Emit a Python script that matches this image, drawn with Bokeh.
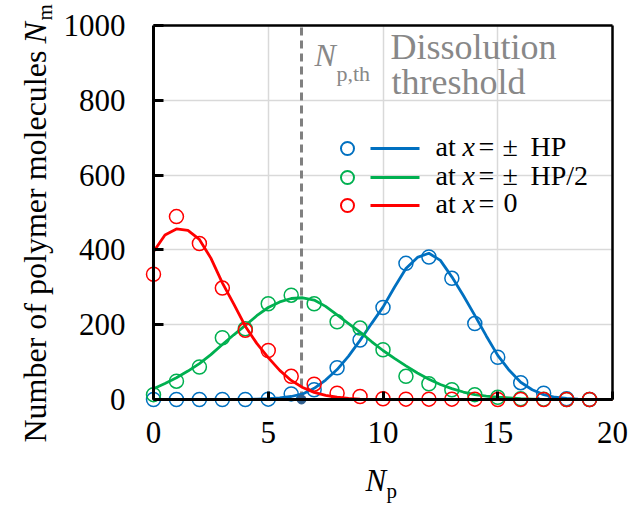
import math
from bokeh.plotting import figure
from bokeh.models import Range1d, Label, FixedTicker, LinearAxis, Grid
from bokeh.embed import file_html
from bokeh.resources import INLINE

# ---------------- data ----------------
n_p = [0, 1, 2, 3, 4, 5, 6, 7, 8, 9, 10, 11, 12, 13, 14, 15, 16, 17, 18, 19]
nm_hp = [0, 0, 0, 0, 0, 1, 15, 26, 85, 159, 246, 364, 381, 324, 203, 113, 45, 17, 2, 0]
nm_hp2 = [13, 49, 87, 165, 189, 256, 279, 256, 208, 191, 133, 62, 42, 26, 13, 6, 2, 1, 0, 0]
nm_0 = [335, 489, 417, 298, 185, 131, 62, 41, 17, 8, 2, 1, 1, 1, 1, 0, 0, 0, 0, 0]

fit_x = [0, 0.5, 1, 1.5, 2, 2.5, 3, 3.5, 4, 4.5, 5, 5.5, 6, 6.5, 7, 7.5, 8, 8.5, 9, 9.5,
         10, 10.5, 11, 11.5, 12, 12.5, 13, 13.5, 14, 14.5, 15, 15.5, 16, 16.5, 17, 17.5,
         18, 18.5, 19, 19.5, 20]
fit_hp = [0, 0, 0, 0, 0, 0, 0, 0, 0, 1, 2, 4, 8, 15, 30, 52, 80, 116, 158, 203,
          247, 300, 350, 380, 391, 372, 328, 278, 225, 170, 118, 78, 46, 26, 13, 6,
          3, 1, 0, 0, 0]
fit_hp2 = [29, 43, 58, 76, 96, 120, 147, 173, 198, 224, 246, 261, 270, 272, 266, 249, 226, 203, 180, 155,
           131, 110, 90, 71, 54, 40, 29, 20, 13, 9, 6, 4, 2, 1, 0, 0,
           0, 0, 0, 0, 0]
fit_0 = [395, 440, 456, 452, 428, 378, 312, 255, 196, 150, 112, 78, 51, 32, 19, 11, 6, 3, 1, 0,
         0, 0, 0, 0, 0, 0, 0, 0, 0, 0, 0, 0, 0, 0, 0, 0,
         0, 0, 0, 0, 0]

n_p_th = 6.45
x_ticks = [0, 5, 10, 15, 20]
y_ticks = [0, 200, 400, 600, 800, 1000]
series_labels = ["HP", "HP/2", "0"]

BLUE = "#0070C0"
GREEN = "#00B050"
RED = "#FF0000"
GRAY = "#888888"
SERIF = "Liberation Serif"

# ---------------- layout (plot box in canvas pixels) ----------------
W, H = 629, 506
LEFT, RIGHT, TOP, BOTTOM = 153, 612, 25, 399
X_MIN, X_MAX = x_ticks[0], x_ticks[-1]
Y_MIN, Y_MAX = y_ticks[0], y_ticks[-1]
sx = (X_MAX - X_MIN) / (RIGHT - LEFT)
sy = (Y_MAX - Y_MIN) / (BOTTOM - TOP)

x_range = Range1d(X_MIN - LEFT * sx, X_MAX + (W - RIGHT) * sx)
y_range = Range1d(Y_MIN - (H - BOTTOM) * sy, Y_MAX + TOP * sy)

p = figure(width=W, height=H, x_range=x_range, y_range=y_range,
           x_axis_location=None, y_axis_location=None,
           min_border_left=0, min_border_right=0, min_border_top=0, min_border_bottom=0,
           output_backend="svg", toolbar_location=None)
p.background_fill_color = "white"
p.border_fill_color = "white"
p.outline_line_color = None


def make_axis(side, loc, ticks, tick_in, show_labels, line_width):
    ax = LinearAxis(fixed_location=loc, ticker=FixedTicker(ticks=ticks),
                    bounds=(X_MIN, X_MAX) if side in ("below", "above") else (Y_MIN, Y_MAX))
    ax.axis_line_color = "black"
    ax.axis_line_width = line_width
    ax.major_tick_line_color = "black"
    ax.major_tick_line_width = 3
    ax.major_tick_in = tick_in
    ax.major_tick_out = 0
    ax.minor_tick_line_color = None
    ax.major_label_text_font = SERIF
    ax.major_label_text_font_size = "31px"
    ax.major_label_text_color = "black"
    if not show_labels:
        ax.major_label_text_alpha = 0
    ax.level = "overlay"
    p.add_layout(ax, side)
    return ax


p.xgrid.visible = False
p.ygrid.visible = False

xax = make_axis("below", Y_MIN, x_ticks, 8, True, 3)
yax = make_axis("left", X_MIN, y_ticks, 10, True, 3)
xax.major_label_standoff = 22
yax.major_label_standoff = 28
make_axis("above", Y_MAX, [], 0, False, 2.5)
make_axis("right", X_MAX, [], 0, False, 2.5)

# grid lines limited to the plot box
gx = Grid(dimension=0, ticker=FixedTicker(ticks=x_ticks), bounds=(X_MIN, X_MAX),
          cross_bounds=(Y_MIN, Y_MAX), grid_line_color="#d9d9d9", grid_line_width=1.5)
gy = Grid(dimension=1, ticker=FixedTicker(ticks=y_ticks), bounds=(Y_MIN, Y_MAX),
          cross_bounds=(X_MIN, X_MAX), grid_line_color="#d9d9d9", grid_line_width=1.5)
p.add_layout(gx)
p.add_layout(gy)

# ---------------- data marks ----------------
p.line([n_p_th, n_p_th], [Y_MIN, Y_MAX], line_color="#808080", line_width=3, line_dash="8 5")

for ys, fy, col in ((nm_hp, fit_hp, BLUE), (nm_hp2, fit_hp2, GREEN), (nm_0, fit_0, RED)):
    p.scatter(n_p, ys, marker="circle", size=14, fill_color=None, line_color=col, line_width=1.5)
    p.line(fit_x, fy, line_color=col, line_width=2.8)

p.scatter([n_p_th], [Y_MIN], marker="circle", size=9, fill_color="#2F5F8F",
          line_color="#2F5F8F", level="overlay")

# ---------------- helpers for text / legend ----------------
K = 0.4  # empirical baseline correction (fraction of font size)


def lab(cx, cy, text, size, italic=False, color="black", rotated=False):
    if rotated:
        x, y, ang = cx - K * size, H - cy, math.pi / 2
    else:
        x, y, ang = cx, H - cy + K * size, 0.0
    p.add_layout(Label(x=x, y=y, x_units="screen", y_units="screen",
                       text=text, text_font=SERIF, text_font_size=f"{size}px",
                       text_font_style="italic" if italic else "normal",
                       text_color=color, text_align="left", text_baseline="alphabetic",
                       angle=ang))


def dx(px):
    return X_MIN + (px - LEFT) * sx


def dy(py):
    return Y_MIN + (BOTTOM - py) * sy


# legend
leg_rows = [148, 177, 205]
for row, col, tail in zip(leg_rows, (BLUE, GREEN, RED), series_labels):
    p.scatter([dx(347)], [dy(row)], marker="circle", size=13, fill_color=None,
              line_color=col, line_width=2)
    p.line([dx(370), dx(419)], [dy(row), dy(row)], line_color=col, line_width=3)
    base = row + 9
    lab(435, base, "at", 28)
    lab(462, base, "x", 28, italic=True)
    lab(478, base, "=", 28)
    if tail == "0":
        lab(503, base, "0", 28)
    else:
        lab(502, base, "\u00b1", 28)
        lab(530, base, tail, 28)

# threshold annotation
lab(314, 67, "N", 32, italic=True, color=GRAY)
lab(336, 82, "p,th", 22, color=GRAY)
lab(390, 61, "Dissolution", 36, color=GRAY)
lab(391, 96, "threshold", 36, color=GRAY)

# axis titles
lab(365, 492, "N", 31, italic=True)
lab(386, 499, "p", 21)

lab(47, 442, "Number of polymer molecules", 32, rotated=True)
lab(47, 43, "N", 32, italic=True, rotated=True)
lab(53, 20, "m", 21, rotated=True)

open("out.html", "w").write(file_html(p, INLINE))
